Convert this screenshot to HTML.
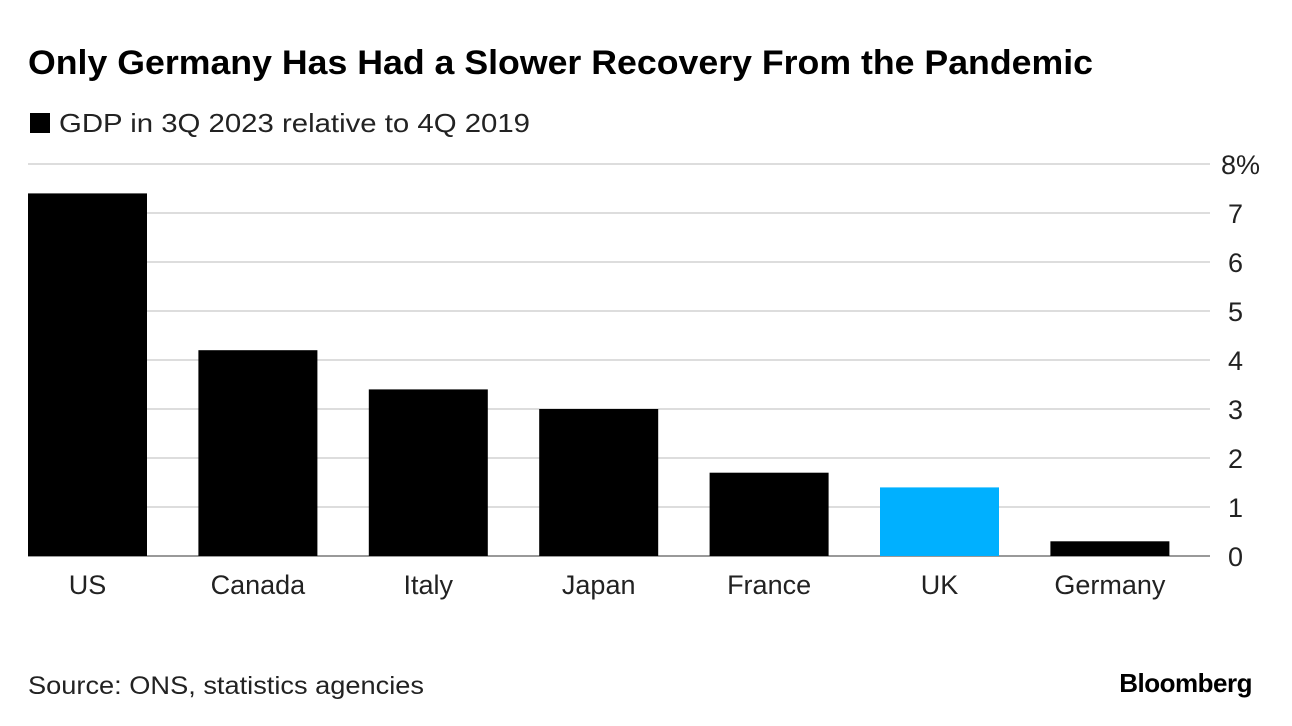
<!DOCTYPE html>
<html><head><meta charset="utf-8"><style>
body{margin:0;width:1292px;height:726px;background:#fff;overflow:hidden;font-family:"Liberation Sans",Arial,sans-serif}
svg{position:absolute;left:0;top:0}
</style></head><body>
<svg id="c" width="1292" height="726">
<text x="28" y="74" font-size="34" font-weight="bold" fill="#000" textLength="1065" lengthAdjust="spacingAndGlyphs">Only Germany Has Had a Slower Recovery From the Pandemic</text>
<rect x="30" y="113" width="20" height="20" fill="#000"/>
<text x="59" y="132" font-size="26" fill="#222" textLength="471" lengthAdjust="spacingAndGlyphs">GDP in 3Q 2023 relative to 4Q 2019</text>
<g id="grid"></g><g id="bars"></g><g id="labels"></g>
<text x="28" y="694" font-size="25" fill="#222" textLength="396" lengthAdjust="spacingAndGlyphs">Source: ONS, statistics agencies</text>
<text x="1252" y="692" font-size="26" font-weight="bold" text-anchor="end" fill="#000" letter-spacing="-0.5">Bloomberg</text>
</svg>
<script>
const categories=["US","Canada","Italy","Japan","France","UK","Germany"];
const values=[7.4,4.2,3.4,3.0,1.7,1.4,0.3];
const colors=["#000","#000","#000","#000","#000","#00b0ff","#000"];
const ticks=[0,1,2,3,4,5,6,7,8];
const ns="http://www.w3.org/2000/svg";
const y0=556,unit=49,left=28,band=170.4,bw=119;
const y=v=>y0-v*unit;
const x=i=>left+i*band;
function mk(t,a,p){const e=document.createElementNS(ns,t);for(const k in a)e.setAttribute(k,a[k]);p.appendChild(e);return e;}
const g=document.getElementById('grid'),b=document.getElementById('bars'),l=document.getElementById('labels');
ticks.forEach(t=>{
  const ln=mk('line',{x1:28,x2:1210,y1:y(t),y2:y(t),stroke:t===0?'#999':'#ddd','stroke-width':2},g);
  
  
  const tx=mk('text',{x:t===8?1221:1228,y:y(t)+10,'font-size':27,fill:'#222'},g);
  tx.textContent=t===8?'8%':String(t);
  
  
});
categories.forEach((c,i)=>{
  const r=mk('rect',{x:x(i),y:y(values[i]),width:bw,height:y0-y(values[i]),fill:colors[i]},b);
  
  
  const t=mk('text',{x:x(i)+bw/2,y:594,'font-size':27,fill:'#222','text-anchor':'middle'},l);
  t.textContent=c;
  
  
});
</script>
</body></html>
